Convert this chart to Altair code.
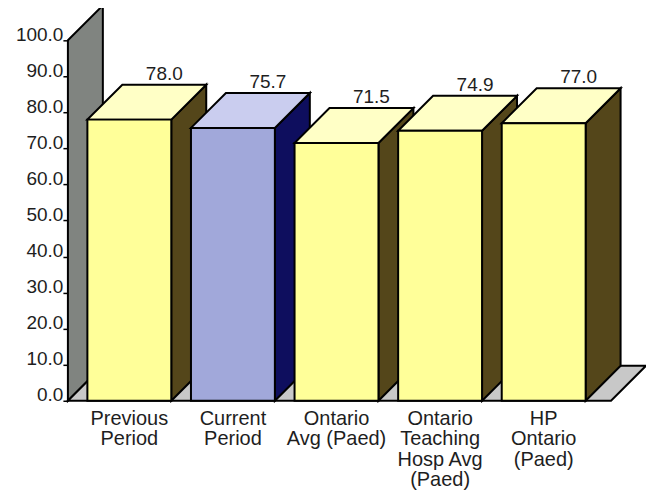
import altair as alt
import pandas as pd

# ---------------- data ----------------
categories = [
    "Previous\nPeriod",
    "Current\nPeriod",
    "Ontario\nAvg (Paed)",
    "Ontario\nTeaching\nHosp Avg\n(Paed)",
    "HP\nOntario\n(Paed)",
]
values = [78.0, 75.7, 71.5, 74.9, 77.0]
is_current = [False, True, False, False, False]
y_ticks = [0, 10, 20, 30, 40, 50, 60, 70, 80, 90, 100]
wall_top = 100

# ---------------- style / geometry ----------------
FRONT = {False: "#FFFF99", True: "#A1A8DA"}
TOP = {False: "#FFFFC6", True: "#CACDEF"}
SIDE = {False: "#54461A", True: "#0E0E5E"}
WALL = "#808480"
FLOOR = "#C8C8C8"
FONT = "Liberation Sans"
TXT = "#1E1E1E"

PX_PER_CAT = 103.75
PX_PER_UNIT = 3.61
W, H = 579, 393
HALF = 0.405
DX = 35 / PX_PER_CAT
DY = 35 / PX_PER_UNIT
X0 = -0.593
X1 = X0 + W / PX_PER_CAT
YMAX = H / PX_PER_UNIT
FLOOR_RIGHT = len(values) - 1 + HALF + 0.245

XS = alt.Scale(domain=[X0, X1], nice=False, zero=False)
YS = alt.Scale(domain=[0, YMAX], nice=False, zero=False)
YAXIS = alt.Axis(values=y_ticks, format=".1f", title=None, domain=False, grid=False,
                 tickSize=5, tickWidth=1.5, tickColor="black", labelFontSize=19,
                 labelFont=FONT, labelColor=TXT, labelPadding=0,
                 labelBaseline="alphabetic")


def xe(f):
    return alt.X(f, type="quantitative", scale=XS, axis=None)


def ye(f):
    return alt.Y(f, type="quantitative", scale=YS, axis=YAXIS)


# ---------------- tables ----------------
wall_df = pd.DataFrame([
    {"id": "wall", "x": X0, "lo": 0, "hi": wall_top, "fill": WALL},
    {"id": "wall", "x": X0 + DX, "lo": DY, "hi": wall_top + DY, "fill": WALL},
])
floor_df = pd.DataFrame([
    {"id": "floor", "y": 0, "xl": X0, "xr": FLOOR_RIGHT, "fill": FLOOR},
    {"id": "floor", "y": DY, "xl": X0 + DX, "xr": FLOOR_RIGHT + DX, "fill": FLOOR},
])
side_rows, top_rows, front_rows, lab_rows = [], [], [], []
for i, (c, v, cur) in enumerate(zip(categories, values, is_current)):
    side_rows += [
        {"id": i, "x": i + HALF, "lo": 0, "hi": v, "fill": SIDE[cur]},
        {"id": i, "x": i + HALF + DX, "lo": DY, "hi": v + DY, "fill": SIDE[cur]},
    ]
    top_rows += [
        {"id": i, "y": v, "xl": i - HALF, "xr": i + HALF, "fill": TOP[cur]},
        {"id": i, "y": v + DY, "xl": i - HALF + DX, "xr": i + HALF + DX, "fill": TOP[cur]},
    ]
    front_rows.append({"id": i, "xl": i - HALF, "xr": i + HALF, "v": v, "z": 0,
                       "fill": FRONT[cur]})
    lab_rows.append({"xc": i, "xv": i + DX, "v": v, "vy": v + DY, "z": 0, "cat": c})
side_df = pd.DataFrame(side_rows)
top_df = pd.DataFrame(top_rows)
front_df = pd.DataFrame(front_rows)
lab_df = pd.DataFrame(lab_rows)

stroke = dict(stroke="black", strokeWidth=2, strokeJoin="miter")

wall = alt.Chart(wall_df).mark_area(**stroke).encode(
    x=xe("x"), y=ye("hi"), y2="lo", detail="id:N",
    color=alt.Color("fill:N", scale=None))

floor = alt.Chart(floor_df).mark_area(orient="horizontal", **stroke).encode(
    y=ye("y"), x=xe("xr"), x2="xl", detail="id:N",
    color=alt.Color("fill:N", scale=None))

sides = alt.Chart(side_df).mark_area(**stroke).encode(
    x=xe("x"), y=ye("hi"), y2="lo", detail="id:N",
    color=alt.Color("fill:N", scale=None))

tops = alt.Chart(top_df).mark_area(orient="horizontal", **stroke).encode(
    y=ye("y"), x=xe("xr"), x2="xl", detail="id:N",
    color=alt.Color("fill:N", scale=None))

fronts = alt.Chart(front_df).mark_rect(**stroke).encode(
    x=xe("xl"), x2="xr", y=ye("v"), y2="z",
    color=alt.Color("fill:N", scale=None))

vlabels = alt.Chart(lab_df).mark_text(
    font=FONT, fontSize=19, color=TXT, baseline="alphabetic", dy=-5
).encode(x=xe("xv"), y=ye("vy"), text=alt.Text("v:Q", format=".1f"))

clabels = alt.Chart(lab_df).mark_text(
    font=FONT, fontSize=20, color=TXT, baseline="top", dy=8,
    lineBreak="\n", lineHeight=20.5
).encode(x=xe("xc"), y=ye("z"), text="cat:N")

chart = alt.layer(wall, floor, sides, tops, fronts, vlabels, clabels).properties(
    width=W, height=H,
    autosize=alt.AutoSizeParams(type="none"),
    padding={"left": 60, "top": 0, "right": 0, "bottom": 90},
    background="white",
).configure_view(stroke=None)

chart.save("out.html", embed_options={"renderer": "svg", "actions": False})
